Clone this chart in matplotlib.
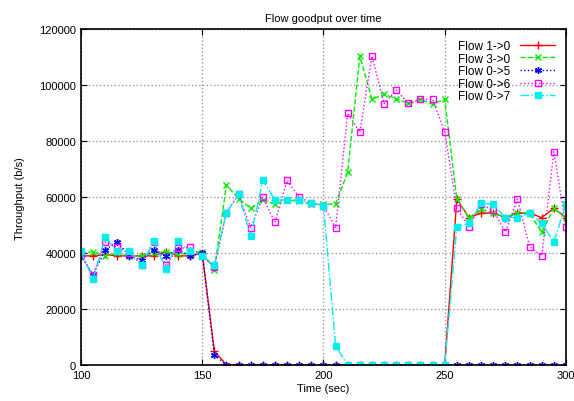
import matplotlib
matplotlib.use("Agg")
import matplotlib.pyplot as plt

plt.rcParams['font.family'] = ['Liberation Sans', 'DejaVu Sans']

# sample times (sec)
t = list(range(100, 301, 5))

# throughput (b/s) per flow
flow_1_0 = [39000, 39000, 39500, 39000, 39000, 39000, 39000, 40500, 39000, 39000,
            40000, 5000, 0, 0, 0, 0, 0, 0, 0, 0,
            0, 0, 0, 0, 0, 0, 0, 0, 0, 0,
            0, 59300, 52700, 54300, 54300, 52700, 54300, 54300, 52700, 56000,
            52700]
flow_3_0 = [40000, 40500, 39000, 40000, 39000, 39000, 40000, 40500, 39500, 40000,
            40500, 34000, 64300, 59500, 56000, 59000, 57500, 59000, 58500, 57500,
            57500, 57500, 69000, 110400, 95000, 96800, 95200, 93500, 95000, 93200,
            95000, 59300, 52700, 55600, 54500, 52700, 54500, 54300, 47500, 56000,
            52700]
flow_0_5 = [39000, 32100, 41200, 44000, 39000, 37500, 41200, 39000, 41200, 39000,
            40000, 3600, 0, 0, 0, 0, 0, 0, 0, 0,
            0, 0, 0, 0, 0, 0, 0, 0, 0, 0,
            0, 0, 0, 0, 0, 0, 0, 0, 0, 0,
            0]
flow_0_6 = [39500, 32100, 44000, 42000, 40000, 35800, 44000, 35700, 41700, 42000,
            39000, 35000, 54500, 61000, 49000, 60000, 51000, 66000, 60000, 58000,
            57000, 49000, 90000, 83200, 110400, 93400, 98300, 93500, 95000, 95000,
            83300, 56000, 49400, 57500, 55400, 47500, 59300, 42300, 39000, 76300,
            49400]
flow_0_7 = [40600, 30700, 45600, 40600, 40600, 35800, 44200, 34300, 44200, 40600,
            39000, 35700, 54500, 61000, 46000, 66000, 59000, 59000, 59000, 58000,
            57000, 6900, 0, 0, 0, 0, 0, 0, 0, 0,
            0, 49400, 50700, 57800, 57500, 52700, 52700, 54300, 50700, 44000,
            57500]

fig = plt.figure(figsize=(5.74, 4.02), dpi=100)
ax = fig.add_axes([0.141, 0.0896, 0.845, 0.835])

ax.plot(t, flow_1_0, color='#ff0000', ls='-', marker='+', ms=6, lw=1, label='Flow 1->0')
ax.plot(t, flow_3_0, color='#00ee00', ls='--', marker='x', ms=5, lw=1, label='Flow 3->0')
ax.plot(t, flow_0_5, color='#0000ff', ls=':', marker=(6, 2, 0), ms=5, lw=1, label='Flow 0->5')
ax.plot(t, flow_0_6, color='#ff00ff', ls=':', marker='s', mfc='none', ms=4.5, lw=1, label='Flow 0->6')
ax.plot(t, flow_0_7, color='#00eeee', ls='-.', marker='s', ms=5, lw=1, label='Flow 0->7')

ax.set_xlim(100, 300)
ax.set_ylim(0, 120000)
ax.set_xticks(range(100, 301, 50))
ax.set_yticks(range(0, 120001, 20000))
ax.tick_params(direction='in', top=True, right=True, labelsize=8, length=4)
ax.grid(True, color='#999999', ls=':', lw=1)
for s in ax.spines.values():
    s.set_linewidth(1.2)

ax.set_title('Flow goodput over time', fontsize=8)
ax.set_xlabel('Time (sec)', fontsize=8, labelpad=2)
ax.set_ylabel('Throughput (b/s)', fontsize=8, labelpad=10)

leg = ax.legend(loc='upper right', frameon=False, fontsize=8.5, markerfirst=False,
                handlelength=3, labelspacing=0.05, borderaxespad=0.5)

fig.savefig('out.png', dpi=100)
